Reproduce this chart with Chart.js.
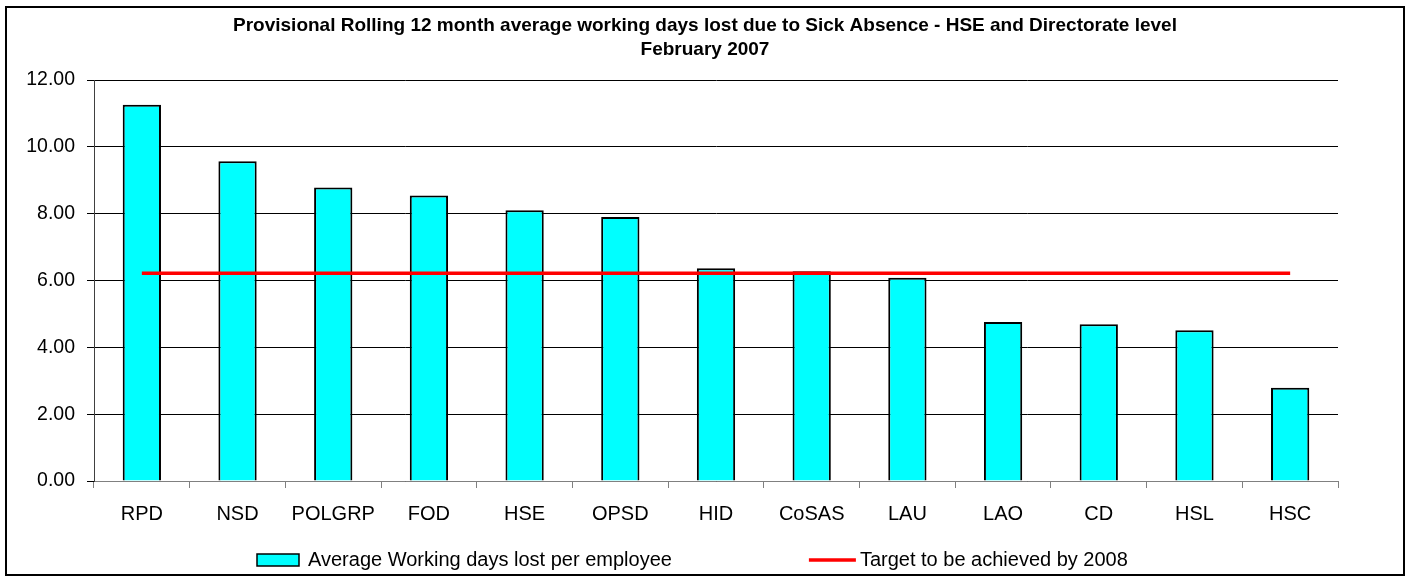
<!DOCTYPE html>
<html>
<head>
<meta charset="utf-8">
<script src="https://cdn.jsdelivr.net/npm/chart.js@4.4.1/dist/chart.umd.min.js"></script>
<style>
  html, body { margin: 0; padding: 0; background: #ffffff; }
  #wrap { width: 1410px; height: 576px; position: relative; }
</style>
</head>
<body>
<div id="wrap"><canvas id="c" width="1410" height="576"></canvas></div>
<script>
// ---- data ----
const categories = ['RPD', 'NSD', 'POLGRP', 'FOD', 'HSE', 'OPSD', 'HID', 'CoSAS', 'LAU', 'LAO', 'CD', 'HSL', 'HSC'];
const avgDaysLost = [11.26, 9.57, 8.78, 8.54, 8.10, 7.90, 6.37, 6.28, 6.08, 4.76, 4.69, 4.51, 2.79];
const targetDays = [6.22, 6.22, 6.22, 6.22, 6.22, 6.22, 6.22, 6.22, 6.22, 6.22, 6.22, 6.22, 6.22];
const seriesLabels = ['Average Working days lost per employee', 'Target to be achieved by 2008'];
const titleLines = ['Provisional Rolling 12 month average working days lost due to Sick Absence - HSE and Directorate level', 'February 2007'];
const yMin = 0, yMax = 12, yStep = 2;

const FONT = "'Liberation Sans', Arial, sans-serif";

// outer frame
const framePlugin = {
  id: 'frame',
  afterDraw(chart) {
    const ctx = chart.ctx;
    ctx.save();
    ctx.strokeStyle = '#000';
    ctx.lineWidth = 2;
    ctx.strokeRect(6, 7, 1398, 568);
    ctx.restore();
  }
};

// Excel-like bottom legend
const legendPlugin = {
  id: 'xlLegend',
  afterDraw(chart) {
    const ctx = chart.ctx;
    const ds = chart.data.datasets;
    const bar = ds.find(d => d.type !== 'line');
    const line = ds.find(d => d.type === 'line');
    ctx.save();
    ctx.font = '20px ' + FONT;
    ctx.textBaseline = 'middle';
    const w1 = ctx.measureText(bar.label).width;
    const boxW = 42, gap1 = 9, mid = 137, lineW = 47, gap2 = 4;
    let x = 257;
    const cy = 560;
    ctx.fillStyle = bar.backgroundColor;
    ctx.fillRect(x, cy - 6, boxW, 12);
    ctx.strokeStyle = '#000';
    ctx.lineWidth = 1.5;
    ctx.strokeRect(x, cy - 6, boxW, 12);
    x += boxW + gap1;
    ctx.fillStyle = '#000';
    ctx.fillText(bar.label, x, cy);
    x += w1 + mid;
    ctx.strokeStyle = line.borderColor;
    ctx.lineWidth = line.borderWidth;
    ctx.beginPath();
    ctx.moveTo(x, cy);
    ctx.lineTo(x + lineW, cy);
    ctx.stroke();
    x += lineW + gap2;
    ctx.fillText(line.label, x, cy);
    ctx.restore();
  }
};

new Chart(document.getElementById('c'), {
  type: 'bar',
  data: {
    labels: categories,
    datasets: [
      {
        type: 'line',
        label: seriesLabels[1],
        data: targetDays,
        borderColor: '#FF0000',
        borderWidth: 3.5,
        pointRadius: 0,
        fill: false,
        order: 0
      },
      {
        type: 'bar',
        label: seriesLabels[0],
        data: avgDaysLost,
        backgroundColor: '#00FFFF',
        borderColor: '#000000',
        borderWidth: 2,
        barPercentage: 0.4,
        categoryPercentage: 1.0,
        order: 1
      }
    ]
  },
  options: {
    responsive: false,
    animation: false,
    devicePixelRatio: 1,
    layout: { padding: { top: 0, left: 0, right: 0, bottom: 45 } },
    plugins: {
      legend: { display: false },
      tooltip: { enabled: false },
      title: {
        display: true,
        text: titleLines,
        color: '#000',
        font: { family: FONT, size: 19, weight: 'bold', lineHeight: 1.2632 },
        padding: { top: 14, bottom: 18 }
      }
    },
    scales: {
      x: {
        offset: true,
        grid: { display: true, drawOnChartArea: false, drawTicks: true, tickLength: 7, color: '#808080', offset: true },
        border: { display: true, color: '#808080', width: 1 },
        ticks: { color: '#000', font: { family: FONT, size: 20 }, padding: 14, maxRotation: 0, autoSkip: false },
        afterFit(s) { s.height = 50; }
      },
      y: {
        min: yMin,
        max: yMax,
        grid: { color: '#000', lineWidth: 1, drawTicks: true, tickLength: 7 },
        border: { display: true, color: '#404040', width: 1 },
        ticks: {
          stepSize: yStep,
          color: '#000',
          font: { family: FONT, size: 19.5 },
          padding: 12,
          callback: v => Number(v).toFixed(2)
        },
        afterFit(s) { s.width = 94; }
      },
      yPad: {
        position: 'right',
        display: true,
        grid: { display: false, drawTicks: false },
        border: { display: false },
        ticks: { display: false },
        afterFit(s) { s.width = 72; }
      }
    }
  },
  plugins: [framePlugin, legendPlugin]
});
</script>
</body>
</html>
